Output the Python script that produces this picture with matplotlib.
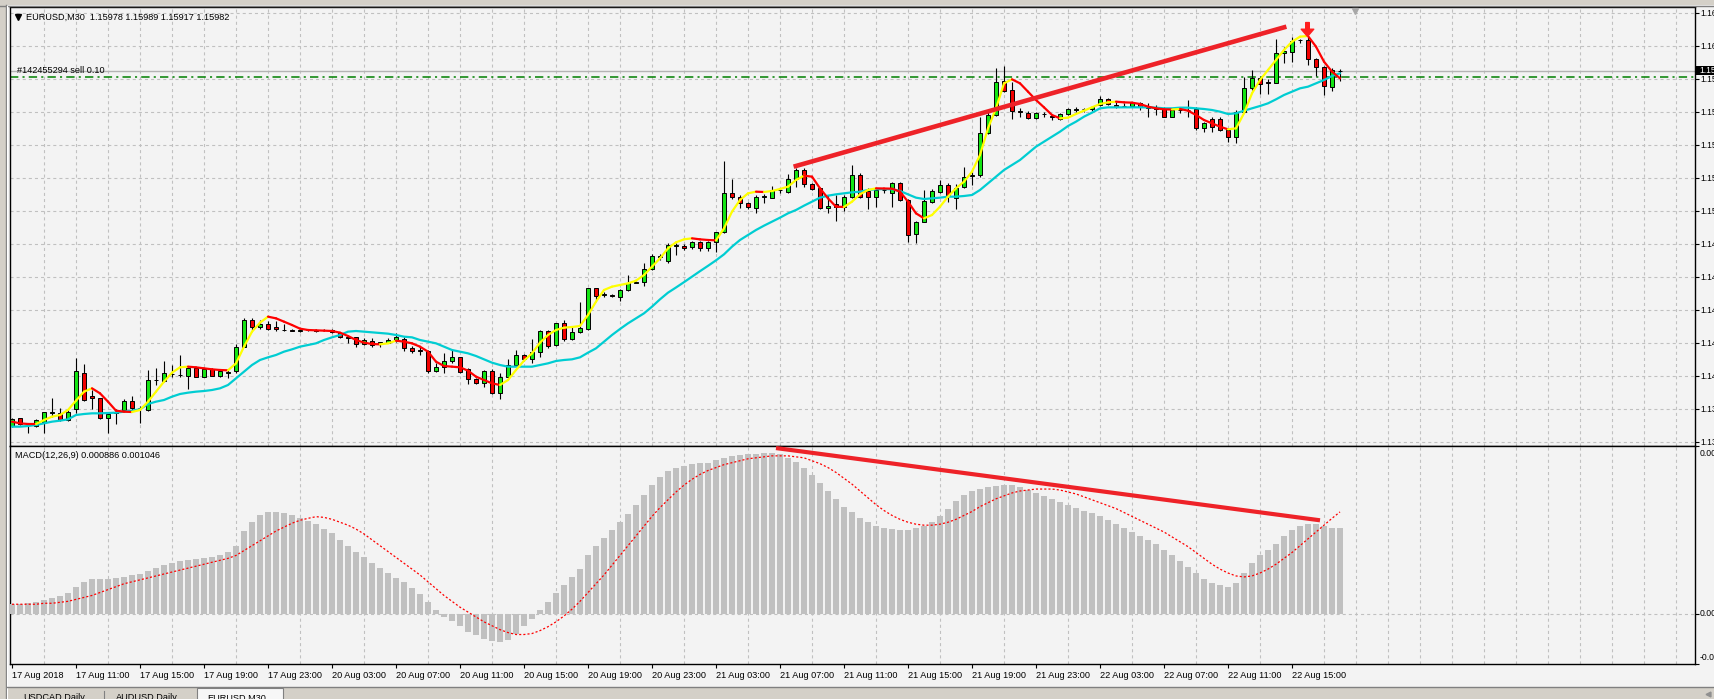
import numpy as np
import matplotlib
matplotlib.use("Agg")
import matplotlib.pyplot as plt
from matplotlib.patches import Rectangle
from matplotlib.lines import Line2D
from matplotlib.collections import LineCollection
from matplotlib.path import Path

plt.rcParams['font.family'] = ['Liberation Sans', 'DejaVu Sans']
plt.rcParams['lines.scale_dashes'] = False

# ---------------- DATA ----------------
symbol_title = "EURUSD,M30  1.15978 1.15989 1.15917 1.15982"
order_text = "#142455294 sell 0.10"
macd_title = "MACD(12,26,9) 0.000886 0.001046"

open_ = [1.13849, 1.13895, 1.13863, 1.13849, 1.13875, 1.13927, 1.13929, 1.13885, 1.13949, 1.14169,
         1.14029, 1.14015, 1.13895, 1.13927, 1.13945, 1.14001, 1.13955, 1.13945, 1.14123, 1.14121,
         1.14159, 1.14157, 1.14151, 1.14195, 1.14145, 1.14189, 1.14151, 1.14169, 1.14181, 1.14325,
         1.14485, 1.14441, 1.14461, 1.14445, 1.14427, 1.14423, 1.14421, 1.14423, 1.14425, 1.14423,
         1.14427, 1.14409, 1.14383, 1.14381, 1.14341, 1.14361, 1.14339, 1.14349, 1.14361, 1.14371,
         1.14315, 1.14303, 1.14297, 1.14181, 1.14205, 1.14241, 1.14261, 1.14189, 1.14129, 1.14105,
         1.14179, 1.14045, 1.14145, 1.14215, 1.14275, 1.14249, 1.14291, 1.14419, 1.14335, 1.14465,
         1.14369, 1.14415, 1.14429, 1.14675, 1.14637, 1.14633, 1.14625, 1.14665, 1.14709, 1.14715,
         1.14789, 1.14863, 1.14839, 1.14929, 1.14931, 1.14921, 1.14951, 1.14915, 1.14951, 1.15011,
         1.15245, 1.15225, 1.15185, 1.15159, 1.15223, 1.15219, 1.15263, 1.15251, 1.15331, 1.15385,
         1.15299, 1.15275, 1.15159, 1.15179, 1.15163, 1.15225, 1.15355, 1.15259, 1.15221, 1.15263,
         1.15245, 1.15305, 1.15205, 1.14999, 1.15075, 1.15195, 1.15251, 1.15295, 1.15215, 1.15281,
         1.15349, 1.15355, 1.15605, 1.15715, 1.15919, 1.15865, 1.15737, 1.15729, 1.15695, 1.15719,
         1.15707, 1.15691, 1.15719, 1.15747, 1.15749, 1.15749, 1.15775, 1.15809, 1.15775, 1.15771,
         1.15769, 1.15785, 1.15763, 1.15757, 1.15755, 1.15705, 1.15743, 1.15747, 1.15749, 1.15635,
         1.15689, 1.15689, 1.15625, 1.15581, 1.15735, 1.15875, 1.15935, 1.15915, 1.15909, 1.16085,
         1.16095, 1.16163, 1.16165, 1.16049, 1.16005, 1.15885, 1.15978]
high = [1.13895, 1.13899, 1.13867, 1.13889, 1.13935, 1.14019, 1.13955, 1.13949, 1.14259, 1.14219,
        1.14065, 1.14019, 1.13935, 1.13949, 1.14011, 1.14031, 1.13969, 1.14185, 1.14195, 1.14241,
        1.14215, 1.14275, 1.14205, 1.14201, 1.14195, 1.14195, 1.14189, 1.14185, 1.14341, 1.14499,
        1.14495, 1.14485, 1.14481, 1.14479, 1.14461, 1.14429, 1.14433, 1.14431, 1.14429, 1.14433,
        1.14433, 1.14413, 1.14385, 1.14385, 1.14375, 1.14379, 1.14355, 1.14375, 1.14409, 1.14385,
        1.14329, 1.14325, 1.14305, 1.14225, 1.14285, 1.14309, 1.14265, 1.14195, 1.14135, 1.14185,
        1.14189, 1.14165, 1.14249, 1.14305, 1.14281, 1.14369, 1.14425, 1.14425, 1.14469, 1.14485,
        1.14445, 1.14595, 1.14679, 1.14679, 1.14655, 1.14641, 1.14669, 1.14755, 1.14719, 1.14825,
        1.14881, 1.14881, 1.14949, 1.14945, 1.14939, 1.14959, 1.14959, 1.14959, 1.15015, 1.15439,
        1.15331, 1.15235, 1.15195, 1.15235, 1.15239, 1.15289, 1.15279, 1.15359, 1.15395, 1.15395,
        1.15305, 1.15279, 1.15235, 1.15235, 1.15235, 1.15415, 1.15365, 1.15275, 1.15279, 1.15279,
        1.15315, 1.15315, 1.15211, 1.15079, 1.15265, 1.15271, 1.15325, 1.15305, 1.15299, 1.15403,
        1.15385, 1.15705, 1.15735, 1.15995, 1.16011, 1.15915, 1.15755, 1.15741, 1.15731, 1.15735,
        1.15715, 1.15725, 1.15755, 1.15761, 1.15757, 1.15769, 1.15829, 1.15815, 1.15795, 1.15785,
        1.15795, 1.15795, 1.15785, 1.15775, 1.15761, 1.15755, 1.15761, 1.15805, 1.15761, 1.15675,
        1.15705, 1.15701, 1.15635, 1.15745, 1.15945, 1.15985, 1.15945, 1.15929, 1.16171, 1.16125,
        1.16181, 1.16171, 1.16185, 1.16055, 1.16009, 1.15995, 1.15989]
low = [1.13845, 1.13855, 1.13805, 1.13841, 1.13809, 1.13905, 1.13881, 1.13881, 1.13925, 1.14001,
       1.13949, 1.13891, 1.13809, 1.13861, 1.13941, 1.13945, 1.13869, 1.13941, 1.14095, 1.14115,
       1.14145, 1.14145, 1.14069, 1.14141, 1.14141, 1.14149, 1.14145, 1.14135, 1.14165, 1.14321,
       1.14425, 1.14433, 1.14425, 1.14421, 1.14417, 1.14417, 1.14413, 1.14417, 1.14413, 1.14417,
       1.14405, 1.14375, 1.14349, 1.14321, 1.14335, 1.14325, 1.14325, 1.14345, 1.14355, 1.14301,
       1.14289, 1.14275, 1.14169, 1.14175, 1.14169, 1.14225, 1.14169, 1.14101, 1.14101, 1.14085,
       1.14041, 1.14009, 1.14141, 1.14209, 1.14241, 1.14225, 1.14265, 1.14315, 1.14329, 1.14361,
       1.14365, 1.14409, 1.14425, 1.14605, 1.14621, 1.14625, 1.14601, 1.14661, 1.14705, 1.14689,
       1.14785, 1.14845, 1.14829, 1.14875, 1.14905, 1.14911, 1.14899, 1.14899, 1.14895, 1.15007,
       1.15211, 1.15159, 1.15151, 1.15125, 1.15185, 1.15215, 1.15245, 1.15245, 1.15285, 1.15285,
       1.15265, 1.15151, 1.15125, 1.15081, 1.15139, 1.15219, 1.15215, 1.15151, 1.15165, 1.15245,
       1.15165, 1.15199, 1.14955, 1.14945, 1.15071, 1.15185, 1.15245, 1.15191, 1.15151, 1.15275,
       1.15295, 1.15345, 1.15599, 1.15711, 1.15855, 1.15689, 1.15705, 1.15689, 1.15691, 1.15705,
       1.15685, 1.15685, 1.15715, 1.15735, 1.15735, 1.15741, 1.15769, 1.15775, 1.15755, 1.15761,
       1.15761, 1.15745, 1.15705, 1.15715, 1.15701, 1.15701, 1.15729, 1.15705, 1.15625, 1.15615,
       1.15615, 1.15621, 1.15551, 1.15545, 1.15729, 1.15865, 1.15841, 1.15841, 1.15905, 1.16025,
       1.16035, 1.16149, 1.16015, 1.15949, 1.15835, 1.15861, 1.15917]
close = [1.13889, 1.13861, 1.13863, 1.13885, 1.13931, 1.13931, 1.13885, 1.13933, 1.14179, 1.14005,
         1.14015, 1.13895, 1.13919, 1.13933, 1.14001, 1.13955, 1.13959, 1.14125, 1.14127, 1.14165,
         1.14163, 1.14153, 1.14195, 1.14145, 1.14189, 1.14151, 1.14181, 1.14173, 1.14325, 1.14485,
         1.14441, 1.14461, 1.14433, 1.14429, 1.14423, 1.14421, 1.14423, 1.14425, 1.14421, 1.14427,
         1.14411, 1.14381, 1.14379, 1.14341, 1.14365, 1.14335, 1.14351, 1.14365, 1.14385, 1.14315,
         1.14299, 1.14299, 1.14181, 1.14201, 1.14241, 1.14261, 1.14175, 1.14129, 1.14105, 1.14179,
         1.14045, 1.14145, 1.14215, 1.14275, 1.14249, 1.14295, 1.14419, 1.14331, 1.14465, 1.14369,
         1.14415, 1.14435, 1.14675, 1.14631, 1.14641, 1.14629, 1.14665, 1.14709, 1.14713, 1.14791,
         1.14869, 1.14867, 1.14935, 1.14933, 1.14915, 1.14951, 1.14915, 1.14951, 1.15011, 1.15245,
         1.15225, 1.15185, 1.15161, 1.15225, 1.15227, 1.15265, 1.15267, 1.15329, 1.15385, 1.15299,
         1.15271, 1.15159, 1.15171, 1.15163, 1.15225, 1.15355, 1.15225, 1.15221, 1.15265, 1.15267,
         1.15305, 1.15205, 1.14995, 1.15071, 1.15199, 1.15259, 1.15295, 1.15235, 1.15279, 1.15345,
         1.15353, 1.15605, 1.15715, 1.15915, 1.15861, 1.15741, 1.15733, 1.15695, 1.15725, 1.15723,
         1.15703, 1.15719, 1.15749, 1.15751, 1.15751, 1.15761, 1.15809, 1.15781, 1.15761, 1.15767,
         1.15785, 1.15765, 1.15759, 1.15753, 1.15705, 1.15745, 1.15747, 1.15743, 1.15635, 1.15665,
         1.15645, 1.15625, 1.15581, 1.15735, 1.15875, 1.15935, 1.15901, 1.15905, 1.16085, 1.16099,
         1.16161, 1.16167, 1.16049, 1.16005, 1.15889, 1.15985, 1.15982]

fast_ma = [1.13875, 1.13865, 1.13861, 1.13861, 1.13885, 1.13905, 1.13915, 1.13945, 1.14001, 1.14055,
           1.14075, 1.14045, 1.13995, 1.13941, 1.13935, 1.13933, 1.13945, 1.13995, 1.14055, 1.14115,
           1.14169, 1.14201, 1.14205, 1.14201, 1.14195, 1.14189, 1.14185, 1.14183, 1.14225, 1.14325,
           1.14415, 1.14469, 1.14505, 1.14495, 1.14475, 1.14455, 1.14433, 1.14425, 1.14423, 1.14421,
           1.14419, 1.14409, 1.14389, 1.14365, 1.14349, 1.14341, 1.14339, 1.14345, 1.14361, 1.14355,
           1.14345, 1.14325, 1.14295, 1.14235, 1.14209, 1.14205, 1.14201, 1.14181, 1.14145, 1.14125,
           1.14105, 1.14095, 1.14125, 1.14185, 1.14241, 1.14285, 1.14349, 1.14395, 1.14425, 1.14439,
           1.14443, 1.14449, 1.14515, 1.14595, 1.14665, 1.14685, 1.14695, 1.14705, 1.14721, 1.14755,
           1.14805, 1.14855, 1.14915, 1.14951, 1.14969, 1.14975, 1.14969, 1.14965, 1.14963, 1.15035,
           1.15135, 1.15205, 1.15245, 1.15255, 1.15253, 1.15259, 1.15271, 1.15285, 1.15325, 1.15351,
           1.15345, 1.15275, 1.15215, 1.15165, 1.15163, 1.15195, 1.15239, 1.15265, 1.15275, 1.15274,
           1.15273, 1.15255, 1.15195, 1.15125, 1.15095, 1.15115, 1.15165, 1.15225, 1.15275, 1.15315,
           1.15375, 1.15475, 1.15635, 1.15755, 1.15905, 1.15929, 1.15905, 1.15855, 1.15805, 1.15761,
           1.15715, 1.15695, 1.15699, 1.15721, 1.15741, 1.15761, 1.15781, 1.15791, 1.15795, 1.15791,
           1.15789, 1.15781, 1.15765, 1.15755, 1.15749, 1.15748, 1.15751, 1.15741, 1.15715, 1.15685,
           1.15665, 1.15645, 1.15629, 1.15635, 1.15725, 1.15845, 1.15925, 1.15985, 1.16045, 1.16105,
           1.16155, 1.16185, 1.16189, 1.16125, 1.16035, 1.15975, 1.15935]
slow_ma = [1.13845, 1.13845, 1.13849, 1.13855, 1.13865, 1.13875, 1.13881, 1.13889, 1.13915, 1.13921,
           1.13925, 1.13925, 1.13927, 1.13929, 1.13935, 1.13941, 1.13949, 1.13981, 1.13995, 1.14005,
           1.14025, 1.14041, 1.14049, 1.14055, 1.14059, 1.14065, 1.14075, 1.14095, 1.14135, 1.14175,
           1.14215, 1.14245, 1.14261, 1.14275, 1.14295, 1.14309, 1.14325, 1.14335, 1.14345, 1.14365,
           1.14381, 1.14395, 1.14415, 1.14419, 1.14415, 1.14411, 1.14407, 1.14403, 1.14395, 1.14385,
           1.14381, 1.14365, 1.14355, 1.14345, 1.14325, 1.14305, 1.14295, 1.14285, 1.14269, 1.14249,
           1.14229, 1.14215, 1.14205, 1.14205, 1.14205, 1.14205, 1.14215, 1.14225, 1.14239, 1.14245,
           1.14249, 1.14261, 1.14289, 1.14315, 1.14355, 1.14395, 1.14431, 1.14465, 1.14495, 1.14525,
           1.14565, 1.14609, 1.14649, 1.14680, 1.14712, 1.14745, 1.14778, 1.14810, 1.14843, 1.14879,
           1.14925, 1.14965, 1.14995, 1.15025, 1.15051, 1.15075, 1.15099, 1.15125, 1.15145, 1.15171,
           1.15195, 1.15219, 1.15231, 1.15239, 1.15245, 1.15251, 1.15255, 1.15265, 1.15269, 1.15271,
           1.15269, 1.15259, 1.15239, 1.15219, 1.15211, 1.15215, 1.15219, 1.15225, 1.15225, 1.15229,
           1.15235, 1.15265, 1.15305, 1.15345, 1.15385, 1.15415, 1.15445, 1.15485, 1.15525, 1.15555,
           1.15585, 1.15615, 1.15649, 1.15675, 1.15705, 1.15729, 1.15755, 1.15761, 1.15761, 1.15761,
           1.15761, 1.15761, 1.15761, 1.15759, 1.15755, 1.15755, 1.15759, 1.15759, 1.15755, 1.15751,
           1.15745, 1.15735, 1.15721, 1.15725, 1.15741, 1.15755, 1.15769, 1.15785, 1.15809, 1.15835,
           1.15855, 1.15875, 1.15885, 1.15905, 1.15925, 1.15949, 1.15965]

# MACD main line (histogram) and signal, in units of 0.001
macd_hist_e3 = [0.10, 0.10, 0.11, 0.12, 0.14, 0.16, 0.18,
                0.22, 0.28, 0.33, 0.36, 0.36, 0.36, 0.37, 0.38,
                0.40, 0.41, 0.44, 0.47, 0.50, 0.52, 0.54, 0.55, 0.56, 0.57, 0.58, 0.60, 0.64,
                0.70, 0.85, 0.94, 1.01, 1.045, 1.045, 1.035, 1.01, 0.98, 0.95, 0.92, 0.87, 0.83, 0.76, 0.70,
                0.64, 0.58, 0.52, 0.47, 0.42, 0.37, 0.33, 0.27, 0.21, 0.12,
                0.04, -0.03, -0.07, -0.12, -0.18, -0.22, -0.26, -0.28, -0.29, -0.27, -0.20, -0.12, -0.05, 0.04,
                0.12, 0.22, 0.30, 0.38, 0.46, 0.60, 0.70, 0.78, 0.86, 0.94, 1.02, 1.12, 1.22, 1.32,
                1.40, 1.46, 1.50, 1.52, 1.54, 1.55, 1.55, 1.58, 1.60, 1.62, 1.63, 1.64, 1.64, 1.65, 1.65, 1.64,
                1.60, 1.56, 1.50, 1.42, 1.34, 1.26, 1.18, 1.10, 1.04, 0.98, 0.94, 0.90, 0.88, 0.87, 0.86, 0.86, 0.88, 0.90, 0.94,
                1.00, 1.08, 1.16, 1.22, 1.26, 1.28, 1.30, 1.31, 1.32, 1.32, 1.30,
                1.27, 1.24, 1.21, 1.18, 1.15, 1.12, 1.09, 1.06, 1.03, 1.00, 0.96, 0.92, 0.88, 0.84, 0.80, 0.76,
                0.72, 0.66, 0.60, 0.54, 0.48, 0.42, 0.36, 0.32, 0.30, 0.28,
                0.32, 0.42, 0.52, 0.60, 0.66, 0.72, 0.80, 0.86, 0.90, 0.92, 0.92, 0.90, 0.88, 0.886]
macd_signal_e3 = [0.10, 0.10, 0.10, 0.10, 0.11, 0.11, 0.12, 0.13, 0.15, 0.17,
                  0.19, 0.22, 0.25, 0.28, 0.31, 0.33, 0.35, 0.37, 0.39, 0.41,
                  0.43, 0.45, 0.47, 0.49, 0.51, 0.53, 0.55, 0.57,
                  0.60, 0.65, 0.70, 0.75, 0.80, 0.85, 0.89, 0.93, 0.96, 0.98,
                  0.997, 0.99, 0.97, 0.94, 0.91, 0.87, 0.82, 0.76, 0.70,
                  0.64, 0.58, 0.52, 0.46, 0.40, 0.33, 0.26, 0.19, 0.13, 0.07,
                  0.02, -0.03, -0.08, -0.12, -0.16, -0.19, -0.21, -0.21, -0.20, -0.17,
                  -0.13, -0.08, -0.02, 0.05, 0.13, 0.22, 0.31, 0.40, 0.50, 0.60,
                  0.70, 0.80, 0.90, 1.00, 1.09, 1.17, 1.25, 1.32, 1.38, 1.43,
                  1.47, 1.50, 1.53, 1.55, 1.57, 1.59, 1.60, 1.61, 1.62, 1.62,
                  1.62, 1.61, 1.60, 1.57, 1.54, 1.50, 1.45, 1.39, 1.33, 1.26,
                  1.19, 1.12, 1.06, 1.01, 0.97, 0.94, 0.92, 0.91, 0.91, 0.92,
                  0.94, 0.97, 1.01, 1.05, 1.10, 1.14, 1.18, 1.21, 1.24, 1.26,
                  1.27, 1.28, 1.28, 1.28, 1.27, 1.25, 1.23, 1.20, 1.17, 1.14,
                  1.11, 1.08, 1.04, 1.00, 0.96, 0.92, 0.88, 0.84, 0.79, 0.74,
                  0.69, 0.63, 0.57, 0.51, 0.46, 0.42, 0.39, 0.38, 0.39, 0.42,
                  0.46, 0.51, 0.57, 0.63, 0.70, 0.77, 0.84, 0.91, 0.98, 1.046]

time_labels = ["17 Aug 2018", "17 Aug 11:00", "17 Aug 15:00", "17 Aug 19:00", "17 Aug 23:00",
               "20 Aug 03:00", "20 Aug 07:00", "20 Aug 11:00", "20 Aug 15:00", "20 Aug 19:00",
               "20 Aug 23:00", "21 Aug 03:00", "21 Aug 07:00", "21 Aug 11:00", "21 Aug 15:00",
               "21 Aug 19:00", "21 Aug 23:00", "22 Aug 03:00", "22 Aug 07:00", "22 Aug 11:00",
               "22 Aug 15:00"]
bars_per_label = 8
price_grid = [1.16329, 1.16131, 1.15933, 1.15735, 1.15537, 1.15339, 1.15141,
              1.14943, 1.14745, 1.14547, 1.14349, 1.14151, 1.13953, 1.13755]
bid_price = 1.15982
order_price = 1.15945
trend_price = [(97.7, 1.15405), (159.3, 1.16245)]
trend_macd_e3 = [(95.5, 1.70), (163.5, 0.96)]
signal_arrow = (161.9, 1.16229)
macd_range_e3 = (-0.512, 1.721)
price_range = (1.13729, 1.16366)
tabs = ["USDCAD,Daily", "AUDUSD,Daily", "EURUSD,M30"]

assert len(open_) == len(high) == len(low) == len(close) == len(fast_ma) == len(slow_ma) \
    == len(macd_hist_e3) == len(macd_signal_e3)

# ---------------- STYLE ----------------
BG = '#F3F3F3'
FRAME = '#D4D0C8'
GRID = '#C0C0C0'
UP = '#14E414'
DN = '#F00000'
YEL = '#FFFF00'
MRED = '#FF0000'
CYAN = '#00CDD2'
HIST = '#C0C0C0'
TREND = '#EE2228'
FS = 6.6
FS_AX = 6.2
GRID_DASH = (0, (2.2, 2.2))

W, H = 1715, 699
fig = plt.figure(figsize=(W / 100, H / 100), dpi=100, facecolor=BG)


def frac(x0, y0, x1, y1):
    return [x0 / W, 1 - y1 / H, (x1 - x0) / W, (y1 - y0) / H]


def fx(px):
    return px / W


def fy(py):
    return 1 - py / H


LEFT, RIGHT = 10, 1695
ax = fig.add_axes(frac(LEFT, 6.5, RIGHT, 446))
axm = fig.add_axes(frac(LEFT, 446, RIGHT, 664))

n = len(close)
x = np.arange(n)
o = np.array(open_)
c = np.array(close)
hi = np.array(high)
lo = np.array(low)
xlim = ((LEFT - 12) / 8, (RIGHT - 12) / 8)

for a in (ax, axm):
    a.set_facecolor(BG)
    a.set_xlim(*xlim)
    for s in a.spines.values():
        s.set_color('black')
        s.set_linewidth(1.0)
    a.set_xticks(np.arange(4, xlim[1], 4), minor=True)
    a.grid(which='minor', axis='x', color=GRID, linestyle=GRID_DASH, linewidth=0.8)
    a.tick_params(which='minor', length=0)
    a.set_axisbelow(True)

# ---- main price panel ----
ax.set_ylim(*price_range)
ax.set_yticks(price_grid)
ax.set_yticklabels([f"{p:.5f}" for p in price_grid])
ax.grid(which='major', axis='y', color=GRID, linestyle=GRID_DASH, linewidth=0.8)
ax.tick_params(axis='y', which='major', left=False, right=True, labelleft=False, labelright=True,
               length=3, width=0.8, direction='out', labelsize=FS_AX, pad=1.2)
ax.tick_params(axis='x', which='major', length=0, labelbottom=False)
ax.set_xticks([])

ax.axhline(bid_price, color='#B4B4B4', lw=1.0, zorder=1.5)
ax.axhline(order_price, color='#008000', lw=1.1, linestyle=(0, (6, 3, 1.5, 3)), zorder=1.6)

body_lo = np.minimum(o, c)
body_h = np.abs(c - o)
colors = [UP if cc > oo else (DN if cc < oo else 'black') for oo, cc in zip(o, c)]
ax.vlines(x, lo, hi, color='black', lw=0.8, zorder=3)
ax.bar(x, body_h, bottom=body_lo, width=0.6, color=colors, edgecolor='black', linewidth=0.7, zorder=4)

ax.plot(x, slow_ma, color=CYAN, lw=1.6, zorder=5, solid_capstyle='round')
fast = np.array(fast_ma)
segs = np.stack([np.column_stack([x[:-1], fast[:-1]]), np.column_stack([x[1:], fast[1:]])], axis=1)
seg_colors = [YEL if fast[i + 1] > fast[i] else MRED for i in range(n - 1)]
ax.add_collection(LineCollection(segs, colors=seg_colors, linewidths=1.6, zorder=6, capstyle='round'))

(tx0, ty0), (tx1, ty1) = trend_price
ax.plot([tx0, tx1], [ty0, ty1], color=TREND, lw=3.3, solid_capstyle='butt', zorder=7)

arrow_path = Path([(-0.13, 0.5), (0.13, 0.5), (0.13, 0.02), (0.45, 0.02), (0.0, -0.5),
                   (-0.45, 0.02), (-0.13, 0.02), (-0.13, 0.5)],
                  [Path.MOVETO] + [Path.LINETO] * 6 + [Path.CLOSEPOLY])
ax.plot([signal_arrow[0]], [signal_arrow[1]], marker=arrow_path, ms=10, color='#FF1E1E',
        mec='#FF1E1E', zorder=8, linestyle='none')

# ---- MACD panel ----
macd = np.array(macd_hist_e3) * 1e-3
sig = np.array(macd_signal_e3) * 1e-3
ymin, ymax = macd_range_e3[0] * 1e-3, macd_range_e3[1] * 1e-3
axm.set_ylim(ymin, ymax)
axm.bar(x, macd, width=0.84, color=HIST, zorder=3, linewidth=0)
axm.plot(x, sig, color='#FF0000', lw=0.9, linestyle=(0, (1.5, 1.5)), zorder=4)
axm.axhline(0, color=GRID, linestyle=GRID_DASH, linewidth=0.8, zorder=1)
(mx0, my0), (mx1, my1) = trend_macd_e3
axm.plot([mx0, mx1], [my0 * 1e-3, my1 * 1e-3], color=TREND, lw=3.0, solid_capstyle='butt', zorder=6)

axm.set_yticks([ymin, 0, ymax])
axm.set_yticklabels([])
axm.tick_params(axis='y', left=False, right=True, labelleft=False, labelright=False,
                length=3, width=0.8, direction='out')
for val, ypx in ((ymax, 453), (0.0, 614), (ymin, 657)):
    fig.text(fx(1699.5), fy(ypx), f"{val:.6f}" if val != 0 else "0.000000",
             fontsize=FS_AX, va='center', ha='left', color='black')

label_bars = np.arange(len(time_labels)) * bars_per_label
axm.set_xticks(label_bars)
axm.set_xticklabels(time_labels, ha='left')
axm.tick_params(axis='x', which='major', length=3, width=0.8, direction='out', labelsize=FS, pad=2)

# ---- texts ----
fig.text(fx(26.5), fy(17), symbol_title, fontsize=FS, va='center', ha='left', color='black', zorder=12)
fig.add_artist(Line2D([fx(18)], [fy(16.5)], marker='v', ms=4.2, color='black',
                      transform=fig.transFigure, zorder=12, linestyle='none'))
fig.text(fx(17), fy(70.5), order_text, fontsize=FS, va='center', ha='left', color='black', zorder=12)
fig.text(fx(15.5), fy(456), macd_title, fontsize=FS, va='center', ha='left', color='black', zorder=12)

# current price box on the scale
fig.add_artist(Rectangle((fx(1696), fy(75.3)), 19 / W, 9.6 / H, transform=fig.transFigure,
                         fc='black', ec='none', zorder=20))
fig.text(fx(1699.5), fy(70.5), f"{bid_price:.5f}", fontsize=FS_AX, va='center', ha='left',
         color='white', zorder=21)

# chart shift marker
fig.add_artist(Line2D([fx(1355)], [fy(11)], marker='v', ms=4.5, color='#A8A8A8',
                      transform=fig.transFigure, zorder=12, linestyle='none'))


# ---- window frame ----
def frect(x0, y0, x1, y1, fc, z=15, ec='none', lw=0):
    fig.add_artist(Rectangle((fx(x0), fy(y1)), (x1 - x0) / W, (y1 - y0) / H,
                             transform=fig.transFigure, fc=fc, ec=ec, lw=lw, zorder=z))


def fline(xs, ys, color, lw=1.0, z=16):
    fig.add_artist(Line2D([fx(v) for v in xs], [fy(v) for v in ys], transform=fig.transFigure,
                          color=color, lw=lw, zorder=z))


frect(0, 0, W, 5, FRAME)
fline([0, W], [5.5, 5.5], '#808080')
frect(0, 0, 6, H, FRAME)
fline([6.5, 6.5], [5, 699], '#808080')
fline([7.5, 7.5], [6, 699], '#FFFFFF', lw=0.8)

# bottom tab bar
fline([7, W], [686.5, 686.5], '#808080')
frect(7, 687, W, H, FRAME)
frect(197, 688, 283, H + 2, '#F7F7F7', z=16, ec='#808080', lw=0.8)
fline([104, 104], [691, 699], '#808080', lw=0.8, z=17)
tab_x = [23, 115.5, 207.5]
for tx, tl in zip(tab_x, tabs):
    fig.text(fx(tx), fy(693.5), tl, fontsize=FS, va='top', ha='left', color='black', zorder=18)
fig.add_artist(Line2D([fx(1708)], [fy(694)], marker='<', ms=3.5, color='#909090',
                      transform=fig.transFigure, zorder=18, linestyle='none'))

fig.savefig('out.png', dpi=100, facecolor=fig.get_facecolor())
